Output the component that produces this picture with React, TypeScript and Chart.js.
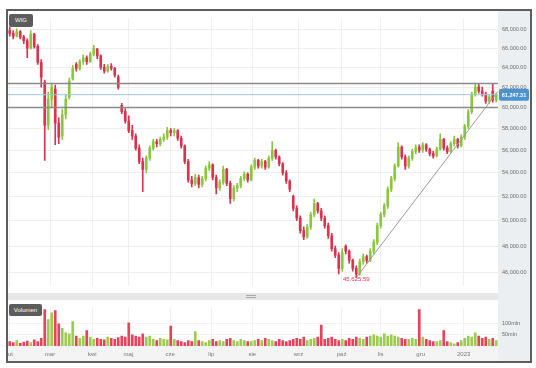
import React, { useEffect, useRef } from "react";
import { Chart, registerables } from "chart.js";
Chart.register(...registerables);

const opens = [
  67900, 67600, 67300, 67800, 67200, 66800, 66000, 67500, 66200, 64500,
  62500, 58300, 60800, 61800, 58500, 57300, 59300, 61000, 62800, 64300,
  63900, 64600, 65000, 64600, 65400, 65900, 65200, 64000, 63600, 64100,
  63900, 63000, 60200, 59600, 58700, 57800, 57300, 56200, 55000, 54300,
  55300, 56200, 56800, 56600, 57000, 57200, 57800, 57600, 57800, 57100,
  56400, 55000, 53400, 53100, 53600, 53000, 53500, 54400, 54700, 53600,
  52700, 53200, 54300, 53100, 51800, 52700, 52900, 53500, 53900, 53400,
  54500, 55100, 54600, 55000, 54500, 55300, 56000, 55400, 54800, 54000,
  53300, 52000, 51000, 50200, 49200, 48700, 49500, 50500, 51400, 50800,
  50200, 49600, 48800, 47800, 47300, 46300, 48000, 47600, 46900, 46300,
  45900, 46800, 47200, 46900, 47600, 48300, 49600, 50500, 51200, 52600,
  53500, 54600, 56300, 55400, 54600, 55300, 55900, 56300, 56000, 56500,
  56100, 55700, 55500, 56100, 57000, 56200, 55900, 56600, 57000, 56400,
  57200, 58200, 59600, 61300, 62000, 61600, 61300, 60600, 61600, 60700,
];
const highs = [
  68300, 67900, 68100, 67900, 67400, 67000, 67900, 67600, 66400, 64800,
  62700, 61500, 62400, 62200, 59000, 59800, 61200, 62900, 64200, 64500,
  64800, 65300, 65200, 65600, 66300, 66000, 65300, 64300, 64300, 64400,
  64000, 63200, 60400, 59900, 59200, 58300, 57500, 56500, 55300, 55500,
  56400, 57000, 57000, 57200, 57500, 58100, 58000, 58000, 57900, 57300,
  56500, 55200, 53700, 53900, 53800, 53700, 54600, 55000, 54800, 53800,
  53400, 54600, 54400, 53300, 52900, 53100, 53700, 54100, 54000, 54700,
  55300, 55200, 55200, 55100, 55500, 56800, 56100, 55500, 54900, 54200,
  53400, 52100, 51200, 50400, 49500, 49700, 50700, 51800, 51500, 51000,
  50400, 49800, 49000, 48000, 47500, 47800, 48100, 47700, 47000, 46500,
  47000, 47400, 47300, 47800, 48500, 49800, 50700, 51400, 52800, 53700,
  54800, 56700, 56400, 55600, 55500, 56100, 56500, 56500, 56700, 56600,
  56200, 55900, 56300, 57500, 57100, 56400, 56800, 57300, 57100, 57400,
  58400, 59800, 61500, 62400, 62300, 62000, 61500, 61200, 62300, 61400,
];
const lows = [
  67300, 67000, 67200, 67000, 66500, 65000, 65900, 66000, 64300, 62000,
  55100, 57900, 60000, 56500, 56600, 57000, 58900, 60800, 62700, 63600,
  63700, 64300, 64300, 64500, 65200, 64900, 63800, 63400, 63500, 63700,
  63000, 61800, 59400, 58500, 57600, 57000, 56000, 54800, 52400, 54000,
  55100, 56000, 56300, 56400, 56800, 57000, 57300, 57300, 56900, 56200,
  54800, 53200, 52800, 52900, 52700, 52800, 53300, 54200, 53400, 52200,
  52500, 53000, 52900, 51400, 51600, 52400, 52700, 53300, 53200, 53300,
  54300, 54400, 54400, 54300, 54400, 55100, 55200, 54600, 53800, 53100,
  52400, 50800, 50000, 49000, 48500, 48600, 49300, 50300, 50600, 50000,
  49400, 48600, 47600, 47100, 45900, 46100, 47400, 46700, 46100, 45625.59,
  45800, 46600, 46700, 46800, 47400, 48100, 49400, 50300, 51000, 52400,
  53300, 54500, 55200, 54300, 54400, 55100, 55700, 55800, 55800, 55900,
  55500, 55300, 55400, 56000, 56000, 55700, 55800, 56400, 56200, 56300,
  57000, 58000, 59400, 61100, 61400, 61100, 60400, 60400, 60500, 60500,
];
const closes = [
  67600, 67300, 67800, 67200, 66800, 66000, 67500, 66200, 64500, 63000,
  58300, 60800, 62000, 58500, 57200, 59300, 60800, 62600, 63900, 63900,
  64600, 65000, 64600, 65400, 66000, 65200, 64000, 63600, 64100, 63900,
  63200, 62000, 59600, 58700, 57800, 57300, 56200, 55000, 54300, 55300,
  56200, 56800, 56600, 57000, 57200, 57800, 57600, 57800, 57100, 56400,
  55000, 53400, 53100, 53600, 53000, 53500, 54400, 54700, 53600, 52700,
  53200, 54300, 53100, 51800, 52700, 52900, 53500, 53900, 53400, 54500,
  55100, 54600, 55000, 54500, 55300, 56000, 55400, 54800, 54000, 53300,
  52600, 51000, 50200, 49200, 48700, 49500, 50500, 51400, 50800, 50200,
  49600, 48800, 47800, 47300, 46300, 47500, 47600, 46900, 46300, 45900,
  46800, 47200, 46900, 47600, 48300, 49600, 50500, 51200, 52600, 53500,
  54600, 56300, 55400, 54600, 55300, 55900, 56300, 56000, 56500, 56100,
  55700, 55500, 56100, 57000, 56200, 55900, 56600, 57000, 56400, 57200,
  58200, 59600, 61300, 62000, 61600, 61300, 60600, 61000, 60700, 61247.31,
];
// volume in millions
const volumes = [
  20, 15, 25, 12, 18, 22, 15, 28, 20, 35,
  165, 120, 150, 160, 100, 80, 60, 55, 110, 45,
  35, 45, 70, 40, 30, 35, 30, 28, 40, 35,
  30, 38, 45, 40, 105, 50, 45, 40, 55, 40,
  45, 30, 25, 35, 30, 28, 90, 30, 25, 20,
  15, 25, 20, 65, 25, 20, 15, 25, 30, 20,
  25, 20, 30, 35, 25, 20, 30, 25, 20, 20,
  25, 30, 25, 35, 30, 25, 20, 30, 25, 20,
  25, 30, 35, 30, 40, 25, 30, 35, 40, 95,
  30, 35, 40, 30, 25, 30, 25, 35, 30, 40,
  35, 30, 40, 45, 50, 45, 40, 55, 45, 50,
  45, 40, 35, 30, 30, 35, 30, 165, 40, 30,
  25, 20, 20, 25, 70, 20, 15, 10, 15, 25,
  35, 45, 40, 60, 45, 35, 40, 30, 35, 25,
];
const monthLabels = ["lut", "mar", "kwi", "maj", "cze", "lip", "sie", "wrz", "paź", "lis", "gru", "2023"];
const monthPos = [0, 11.5, 23.6, 33.9, 45.8, 57.6, 69.3, 82.5, 94.8, 106, 117.4, 129.7];
const priceTicks = [46000, 48000, 50000, 52000, 54000, 56000, 58000, 60000, 62000, 64000, 66000, 68000];
const volumeTicks = [50, 100];
const levelLines = [62350, 60000];
const lastPrice = 61247.31;
const trendX = [99, 139.5];
const trendY = [45625.59, 61580];
const seriesName = "WIG";
const volumeName = "Volumen";

const RED = "#d93350";
const GREEN = "#8cc640";
const VRED = "#e5425c";
const VGREEN = "#9bcb4f";

const fmt = (v: number) =>
  v.toLocaleString("en-US", { minimumFractionDigits: 2, maximumFractionDigits: 2 });

export default function App() {
  const mainRef = useRef<HTMLCanvasElement>(null);
  const volRef = useRef<HTMLCanvasElement>(null);

  useEffect(() => {
    const n = closes.length;
    const idx = closes.map((_, i) => i);
    const colors = idx.map((i) => (closes[i] >= opens[i] ? GREEN : RED));
    const vcolors = idx.map((i) => (closes[i] >= opens[i] ? VGREEN : VRED));

    const xMonthTicks = (s: any) => {
      s.ticks = monthPos.map((v) => ({ value: v }));
    };

    const labelsPlugin = {
      id: "labelsPlugin",
      afterDraw(chart: any) {
        const { ctx, chartArea, scales } = chart;
        const x = scales.x;
        const y = scales.y;
        ctx.save();
        const py = y.getPixelForValue(lastPrice);
        ctx.fillStyle = "#4a93cf";
        ctx.beginPath();
        if (ctx.roundRect) ctx.roundRect(chartArea.right + 1, py - 6, 30, 12, 2);
        else ctx.rect(chartArea.right + 1, py - 6, 30, 12);
        ctx.fill();
        ctx.fillStyle = "#ffffff";
        ctx.font = "bold 5.5px Arial";
        ctx.textAlign = "center";
        ctx.textBaseline = "middle";
        ctx.fillText(fmt(lastPrice), chartArea.right + 16, py + 0.5);
        let li = 0;
        lows.forEach((v, i) => {
          if (v < lows[li]) li = i;
        });
        ctx.fillStyle = RED;
        ctx.font = "6px Arial";
        ctx.fillText(fmt(lows[li]), x.getPixelForValue(li), y.getPixelForValue(lows[li]) + 2);
        ctx.restore();
      },
    };

    const main = new Chart(mainRef.current!, {
      type: "bar",
      data: {
        datasets: [
          ...levelLines.map((v) => ({
            type: "line" as const,
            data: [{ x: -0.5, y: v }, { x: n - 0.5, y: v }],
            borderColor: "#8a8a8a",
            borderWidth: 1.5,
            pointRadius: 0,
            order: 1,
          })),
          {
            type: "line" as const,
            data: [{ x: -0.5, y: lastPrice }, { x: n - 0.5, y: lastPrice }],
            borderColor: "#9cc9de",
            borderWidth: 1,
            pointRadius: 0,
            order: 1,
          },
          {
            type: "line" as const,
            data: trendX.map((v, i) => ({ x: v, y: trendY[i] })),
            borderColor: "#9a9a9a",
            borderWidth: 1,
            pointRadius: 0,
            order: 1,
          },
          {
            type: "bar" as const,
            data: idx.map((i) => ({ x: i, y: [lows[i], highs[i]] })),
            backgroundColor: colors,
            barThickness: 1,
            grouped: false,
            order: 3,
          },
          {
            type: "bar" as const,
            data: idx.map((i) => ({ x: i, y: [opens[i], closes[i]] })),
            backgroundColor: colors,
            barThickness: 2,
            minBarLength: 1,
            grouped: false,
            order: 2,
          },
        ] as any,
      },
      options: {
        animation: false,
        responsive: true,
        maintainAspectRatio: false,
        layout: { padding: 0 },
        plugins: { legend: { display: false }, tooltip: { enabled: false } },
        scales: {
          x: {
            type: "linear",
            offset: false,
            min: -0.5,
            max: n - 0.5,
            afterBuildTicks: xMonthTicks,
            ticks: { display: false },
            grid: { color: "#efefef", drawTicks: false, offset: false },
            border: { display: false },
            afterFit: (s: any) => {
              s.height = 0;
            },
          },
          y: {
            type: "logarithmic",
            position: "right",
            min: 45030,
            max: 69260,
            afterBuildTicks: (s: any) => {
              s.ticks = priceTicks.map((v) => ({ value: v }));
            },
            ticks: {
              callback: (v: any) => fmt(Number(v)),
              font: { size: 5.5, family: "Arial" },
              color: "#6a6a6a",
              padding: 4,
            },
            grid: { color: "#efefef", drawTicks: false },
            border: { display: false },
            afterFit: (s: any) => {
              s.width = 32;
            },
          },
        },
      } as any,
      plugins: [labelsPlugin],
    });

    const vol = new Chart(volRef.current!, {
      type: "bar",
      data: {
        datasets: [
          {
            data: idx.map((i) => ({ x: i, y: volumes[i] })),
            backgroundColor: vcolors,
            barThickness: 2,
          },
        ] as any,
      },
      options: {
        animation: false,
        responsive: true,
        maintainAspectRatio: false,
        layout: { padding: 0 },
        plugins: { legend: { display: false }, tooltip: { enabled: false } },
        scales: {
          x: {
            type: "linear",
            offset: false,
            min: -0.5,
            max: n - 0.5,
            afterBuildTicks: xMonthTicks,
            ticks: {
              autoSkip: false,
              maxRotation: 0,
              callback: (_v: any, i: number) => monthLabels[i],
              font: { size: 6, family: "Arial" },
              color: "#777",
              padding: 5,
            },
            grid: { color: "#f0f0f0", drawTicks: false, offset: false },
            border: { display: false },
            afterFit: (s: any) => {
              s.height = 16;
              s.paddingLeft = 0;
              s.paddingRight = 0;
            },
          },
          y: {
            position: "right",
            min: 0,
            max: 175,
            afterBuildTicks: (s: any) => {
              s.ticks = volumeTicks.map((v) => ({ value: v }));
            },
            ticks: {
              callback: (v: any) => v + "mln",
              font: { size: 5.5, family: "Arial" },
              color: "#6a6a6a",
              padding: 4,
            },
            grid: { color: "#f2f2f2", drawTicks: false },
            border: { display: false },
            afterFit: (s: any) => {
              s.width = 32;
            },
          },
        },
      } as any,
    });

    return () => {
      main.destroy();
      vol.destroy();
    };
  }, []);

  const box = (extra: React.CSSProperties): React.CSSProperties => ({ position: "absolute", ...extra });

  return (
    <div style={{ position: "fixed", left: 0, top: 0, width: 536, height: 368, background: "#fff", fontFamily: "Arial, sans-serif" }}>
      <div style={box({ left: 498, top: 11, width: 32, height: 350, background: "#eceff2" })} />
      <div style={box({ left: 8, top: 346, width: 490, height: 15, background: "#f4f4f4" })} />
      <div style={box({ left: 8, top: 293, width: 490, height: 7, background: "#e7e7e7" })} />
      <div style={box({ left: 246, top: 295, width: 10, height: 1, borderTop: "1px solid #aaa", borderBottom: "1px solid #aaa" })} />
      <div style={box({ left: 8, top: 11, width: 522, height: 282 })}>
        <canvas ref={mainRef} />
      </div>
      <div style={box({ left: 8, top: 300, width: 522, height: 62 })}>
        <canvas ref={volRef} />
      </div>
      <div style={box({ left: 9, top: 14, width: 24, height: 13, background: "#5c5c5c", borderRadius: 2, color: "#fff", fontSize: 6, lineHeight: "13px", textAlign: "center" })}>
        {seriesName}
      </div>
      <div style={box({ left: 9, top: 304, width: 33, height: 12, background: "#5c5c5c", borderRadius: 2, color: "#fff", fontSize: 6, lineHeight: "12px", textAlign: "center" })}>
        {volumeName}
      </div>
      <div style={box({ left: 6, top: 9, width: 526, height: 354, border: "2px solid #5e5e5e", boxSizing: "border-box" })} />
    </div>
  );
}
